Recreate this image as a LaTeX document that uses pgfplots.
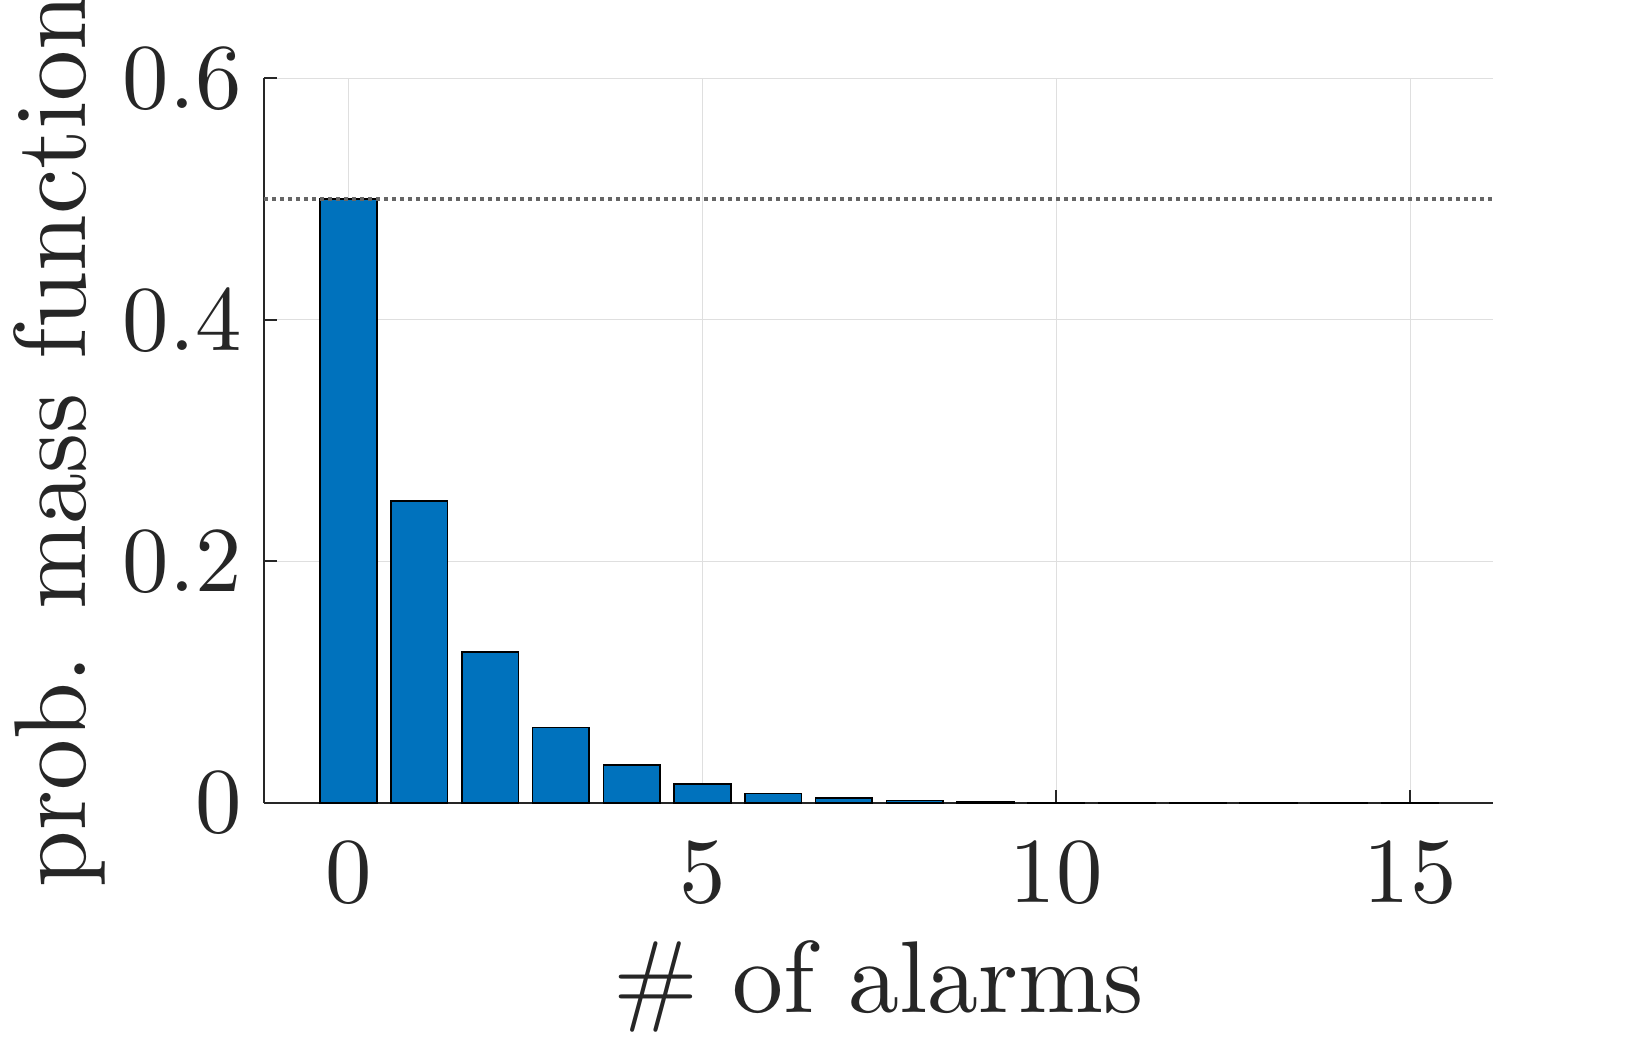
\documentclass[border=0pt]{standalone}
\usepackage{fontspec}
\setmainfont{lmroman10-regular.otf}
\usepackage{pgfplots}
\pgfplotsset{compat=1.18}
\definecolor{mblue}{RGB}{0,114,189}
\definecolor{txtgray}{RGB}{38,38,38}
\definecolor{gridgray}{RGB}{223,223,223}
\definecolor{dotgray}{RGB}{102,102,102}
\begin{document}
\begin{tikzpicture}
\useasboundingbox (-66.1pt,-61.75pt) rectangle (346.4pt,200.75pt);
\begin{axis}[
  at={(0,0)}, anchor=south west,
  scale only axis,
  width=307.1pt, height=181.2pt,
  xmin=-1.19, xmax=16.17,
  ymin=0, ymax=0.6,
  axis x line*=bottom, axis y line*=left,
  xtick={0,5,10,15},
  ytick={0,0.2,0.4,0.6},
  xmajorgrids, ymajorgrids,
  grid style={color=gridgray, line width=0.25pt},
  axis line style={color=txtgray, line width=0.5pt},
  tick style={color=txtgray, line width=0.5pt},
  major tick length=3.2pt,
  tick align=inside,
  /pgf/number format/assume math mode=true,
  tick label style={color=txtgray, font=\fontsize{23.2}{28}\selectfont},
  xticklabel style={yshift=-5.8pt},
  yticklabel style={xshift=-2.2pt},
  label style={color=txtgray, font=\fontsize{25.5}{30}\selectfont},
  xlabel={\# of alarms},
  ylabel={prob. mass function},
  xlabel style={at={(axis description cs:0.5,-0.2886)}, anchor=base},
  ylabel style={at={(axis description cs:-0.1459,0.5)}, anchor=base},
  clip=false,
]
\addplot[ybar, bar width=0.8, fill=mblue, draw=black, line width=0.4pt] coordinates {
(0,0.5) (1,0.25) (2,0.125) (3,0.0625) (4,0.03125) (5,0.015625) (6,0.0078125) (7,0.00390625)
(8,0.001953125) (9,0.0009765625) (10,0.00048828125) (11,0.000244140625) (12,0.0001220703125)
(13,0.00006103515625) (14,0.000030517578125) (15,0.0000152587890625)
};
\addplot[color=dotgray, line width=0.85pt, dash pattern=on 0.85pt off 1.15pt] coordinates {(-1.19,0.5) (16.17,0.5)};
\end{axis}
\end{tikzpicture}
\end{document}
